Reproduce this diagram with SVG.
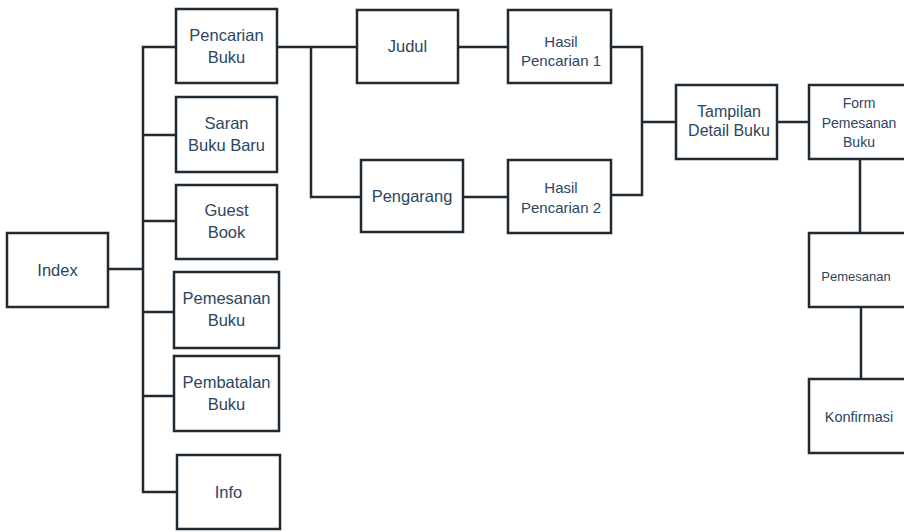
<svg xmlns="http://www.w3.org/2000/svg" width="904" height="532" viewBox="0 0 904 532">
  <style>
    .box { fill: #ffffff; stroke: #1f2a33; stroke-width: 2.5; }
    .wire { fill: none; stroke: #1f2a33; stroke-width: 2.5; stroke-linejoin: miter; }
    text { font-family: "Liberation Sans", Arial, sans-serif; fill: #2c4660; text-anchor: middle; }
    .lg { font-size: 16.5px; }
    .md { font-size: 15px; }
    .tp { font-size: 16px; }
    .sm { font-size: 14px; }
    .xs { font-size: 13px; }
  </style>
  <rect width="904" height="532" fill="#ffffff"/>

  <!-- connectors -->
  <g id="connectors" class="wire">
    <!-- Index to menu trunk -->
    <path d="M108 269 H143"/>
    <path d="M176 47 H143 V492 H177"/>
    <path d="M143 135 H176"/>
    <path d="M143 221 H176"/>
    <path d="M143 312 H174"/>
    <path d="M143 396 H174"/>
    <!-- search branches -->
    <path d="M277 47 H357"/>
    <path d="M311 47 V197 H361"/>
    <path d="M458 47 H508"/>
    <path d="M463 197 H508"/>
    <!-- results merge -->
    <path d="M611 47 H642 V195 H611"/>
    <path d="M642 122 H676"/>
    <path d="M777 122 H809"/>
    <!-- order flow -->
    <path d="M860 159 V233"/>
    <path d="M861 307 V379"/>
  </g>

  <g id="index">
    <rect class="box" x="7" y="233" width="101" height="74"/>
    <text class="lg" x="57.5" y="276">Index</text>
  </g>

  <g id="pencarian-buku">
    <rect class="box" x="176" y="9" width="101" height="74"/>
    <text class="lg" x="226.5" y="41">Pencarian</text>
    <text class="lg" x="226.5" y="63">Buku</text>
  </g>

  <g id="saran-buku-baru">
    <rect class="box" x="176" y="97" width="101" height="75"/>
    <text class="lg" x="226.5" y="129">Saran</text>
    <text class="lg" x="226.5" y="151">Buku Baru</text>
  </g>

  <g id="guest-book">
    <rect class="box" x="176" y="185" width="101" height="74"/>
    <text class="lg" x="226.5" y="216">Guest</text>
    <text class="lg" x="226.5" y="238">Book</text>
  </g>

  <g id="pemesanan-buku">
    <rect class="box" x="174" y="272" width="105" height="76"/>
    <text class="lg" x="226.5" y="304">Pemesanan</text>
    <text class="lg" x="226.5" y="326">Buku</text>
  </g>

  <g id="pembatalan-buku">
    <rect class="box" x="174" y="356" width="105" height="75"/>
    <text class="lg" x="226.5" y="388">Pembatalan</text>
    <text class="lg" x="226.5" y="410">Buku</text>
  </g>

  <g id="info">
    <rect class="box" x="177" y="455" width="103" height="74"/>
    <text class="lg" x="228.5" y="498">Info</text>
  </g>

  <g id="judul">
    <rect class="box" x="357" y="10" width="101" height="73"/>
    <text class="lg" x="407.5" y="52">Judul</text>
  </g>

  <g id="pengarang">
    <rect class="box" x="361" y="160" width="102" height="72"/>
    <text class="lg" x="412" y="202">Pengarang</text>
  </g>

  <g id="hasil-pencarian-1">
    <rect class="box" x="508" y="10" width="103" height="73"/>
    <text class="md" x="561" y="47">Hasil</text>
    <text class="md" x="561" y="66">Pencarian 1</text>
  </g>

  <g id="hasil-pencarian-2">
    <rect class="box" x="508" y="160" width="103" height="73"/>
    <text class="md" x="561" y="193">Hasil</text>
    <text class="md" x="561" y="213">Pencarian 2</text>
  </g>

  <g id="tampilan-detail-buku">
    <rect class="box" x="676" y="85" width="101" height="74"/>
    <text class="tp" x="729" y="117">Tampilan</text>
    <text class="tp" x="729" y="136">Detail Buku</text>
  </g>

  <g id="form-pemesanan-buku">
    <rect class="box" x="809" y="85" width="101" height="74"/>
    <text class="sm" x="859" y="108">Form</text>
    <text class="sm" x="859" y="128">Pemesanan</text>
    <text class="sm" x="859" y="147">Buku</text>
  </g>

  <g id="pemesanan">
    <rect class="box" x="809" y="233" width="101" height="74"/>
    <text class="xs" x="856" y="281">Pemesanan</text>
  </g>

  <g id="konfirmasi">
    <rect class="box" x="809" y="379" width="101" height="74"/>
    <text class="sm" x="859" y="422" style="font-size:14.5px">Konfirmasi</text>
  </g>
</svg>
